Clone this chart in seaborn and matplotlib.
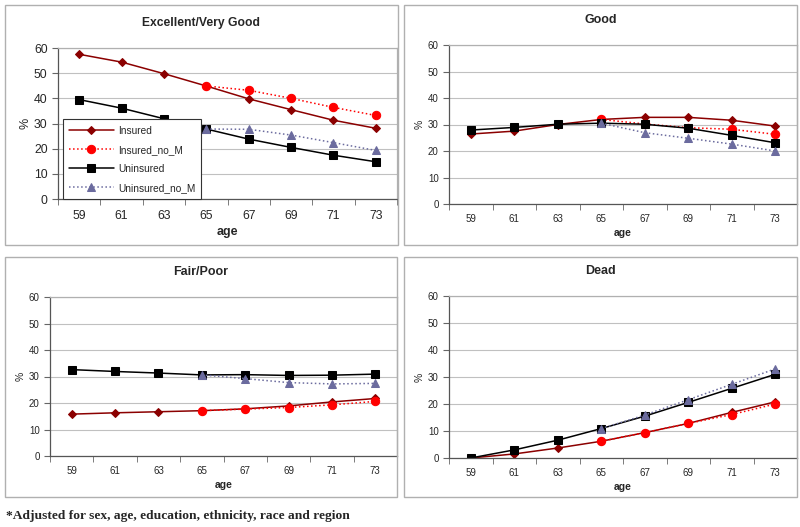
import matplotlib
matplotlib.use("Agg")
import matplotlib.pyplot as plt
from matplotlib.patches import Rectangle
from matplotlib.ticker import MultipleLocator
import seaborn as sns
import pandas as pd

ages = [59, 61, 63, 65, 67, 69, 71, 73]
ages_m = [65, 67, 69, 71, 73]

# Excellent/Very Good
evg_ins = [57.5, 54.4, 49.8, 44.9, 39.8, 35.5, 31.3, 28.1]
evg_ins_nom = [44.9, 43.2, 40.0, 36.4, 33.2]
evg_unins = [39.5, 36.1, 31.9, 27.8, 23.8, 20.5, 17.4, 14.8]
evg_unins_nom = [27.8, 27.7, 25.4, 22.4, 19.3]

# Good
good_ins = [26.4, 27.5, 30.0, 31.9, 32.7, 32.7, 31.6, 29.4]
good_ins_nom = [31.9, 30.2, 28.8, 28.2, 26.3]
good_unins = [27.9, 28.9, 30.1, 30.5, 30.1, 28.6, 25.9, 23.1]
good_unins_nom = [30.5, 26.9, 24.8, 22.6, 20.0]

# Fair/Poor
fp_ins = [15.8, 16.3, 16.7, 17.1, 17.8, 18.9, 20.4, 21.7]
fp_ins_nom = [17.1, 17.7, 18.3, 19.3, 20.6]
fp_unins = [32.6, 31.9, 31.3, 30.6, 30.7, 30.4, 30.5, 30.9]
fp_unins_nom = [30.6, 29.2, 27.7, 27.2, 27.4]

# Dead
dead_ins = [0.0, 1.5, 3.7, 6.2, 9.4, 12.8, 16.9, 20.8]
dead_ins_nom = [6.2, 9.4, 12.8, 16.1, 20.0]
dead_unins = [0.0, 3.0, 6.6, 10.9, 15.5, 20.6, 25.8, 31.0]
dead_unins_nom = [10.9, 15.9, 21.6, 27.3, 33.0]

panels = [
    ("Excellent/Very Good", evg_ins, evg_ins_nom, evg_unins, evg_unins_nom),
    ("Good", good_ins, good_ins_nom, good_unins, good_unins_nom),
    ("Fair/Poor", fp_ins, fp_ins_nom, fp_unins, fp_unins_nom),
    ("Dead", dead_ins, dead_ins_nom, dead_unins, dead_unins_nom),
]

sns.set_style("white")
plt.rcParams["font.family"] = ["Liberation Sans", "DejaVu Sans"]

fig = plt.figure(figsize=(8, 5.27), dpi=100)
W, H = 800, 527

# panel frames (px): x0, y0, x1, y1
frames = [(5, 5, 398, 245), (404, 5, 797, 245), (5, 257, 397, 497), (404, 257, 797, 497)]
for x0, y0, x1, y1 in frames:
    fig.patches.append(Rectangle((x0 / W, 1 - y1 / H), (x1 - x0) / W, (y1 - y0) / H,
                                 transform=fig.transFigure, fill=False,
                                 edgecolor="#b0b0b0", linewidth=1.0))

# axes rectangles (px): left, top, right, bottom
boxes = [(58, 48, 397, 199), (449, 45, 797, 204), (50, 297, 397, 456), (449, 296, 797, 458)]
title_y = [23, 20, 272, 271]

styles = [
    ("Insured", "#8b0000", "D", "-", 4.0),
    ("Insured_no_M", "#ff0000", "o", ":", 6.0),
    ("Uninsured", "#000000", "s", "-", 5.5),
    ("Uninsured_no_M", "#6b6b9e", "^", ":", 5.5),
]

for i, (title, ins, ins_nom, unins, unins_nom) in enumerate(panels):
    l, t, r, b = boxes[i]
    ax = fig.add_axes([l / W, 1 - b / H, (r - l) / W, (b - t) / H])
    big = i == 0
    fs_tick = 8.8 if big else 7
    fs_lab = 9 if big else 7.5
    fs_title = 8.7 if big else 9

    series = [(ages, ins), (ages_m, ins_nom), (ages, unins), (ages_m, unins_nom)]
    for (name, col, mk, ls, ms), (xs, ys) in zip(styles, series):
        df = pd.DataFrame({"age": xs, "pct": ys})
        sns.lineplot(data=df, x="age", y="pct", ax=ax, color=col, marker=mk,
                     linestyle=ls, markersize=ms, markeredgecolor=col,
                     linewidth=1.1, label=name if big else None, legend=False)

    ax.set_xlim(58, 74)
    ax.set_ylim(0, 60)
    ax.set_xticks(ages)
    ax.set_xticklabels([str(a) for a in ages], fontsize=fs_tick)
    ax.xaxis.set_minor_locator(MultipleLocator(2))
    ax.tick_params(axis="x", which="major", length=0, pad=8 if big else 7)
    ax.tick_params(axis="x", which="minor", length=4, direction="out", color="#666666")
    ax.tick_params(axis="x", which="minor", bottom=True)
    ax.set_yticks(range(0, 61, 10))
    ax.tick_params(axis="y", labelsize=fs_tick, length=4, direction="out",
                   color="#666666", left=True)
    ax.grid(axis="y", color="#c0c0c0", linewidth=0.8)
    ax.set_axisbelow(True)
    for side in ["top", "right"]:
        ax.spines[side].set_color("#b0b0b0")
    for side in ["left", "bottom"]:
        ax.spines[side].set_color("#555555")
    for sp in ax.spines.values():
        sp.set_linewidth(0.9)
    ax.set_xlabel("age", fontsize=fs_lab, fontweight="bold", labelpad=3)
    ax.set_ylabel("%", fontsize=fs_lab, labelpad=2)

    # chart title centred on the whole panel frame, like Excel does
    x0, _, x1, _ = frames[i]
    fig.text((x0 + x1) / 2 / W, 1 - title_y[i] / H, title, fontsize=fs_title,
             fontweight="bold", ha="center", va="center")

    if big:
        leg = ax.legend(loc="lower left", bbox_to_anchor=(0.015, 0.0), fontsize=7.3,
                        frameon=True, fancybox=False, framealpha=1, edgecolor="#333333",
                        handlelength=4.4, labelspacing=0.9, borderpad=0.6,
                        handletextpad=0.4, borderaxespad=0)
        leg.get_frame().set_linewidth(0.8)

fig.text(6 / W, 1 - 516 / H, "*Adjusted for sex, age, education, ethnicity, race and region",
         fontsize=9.7, fontweight="bold", family=["Liberation Serif", "DejaVu Serif"],
         va="center", ha="left")

fig.savefig("out.png", dpi=100)
